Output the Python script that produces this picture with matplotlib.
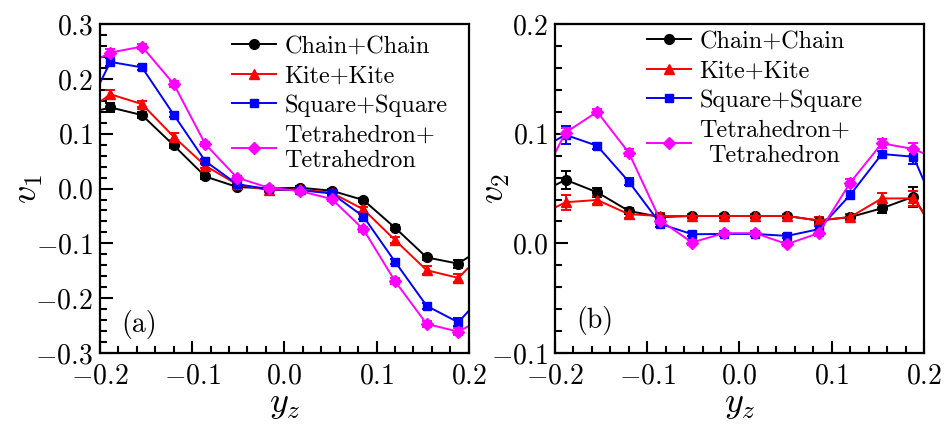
import numpy as np
import matplotlib
matplotlib.use("Agg")
import matplotlib.pyplot as plt
from matplotlib.lines import Line2D

plt.rcParams['font.family'] = 'serif'
plt.rcParams['font.serif'] = ['cmr10']
plt.rcParams['mathtext.fontset'] = 'cm'
plt.rcParams['axes.formatter.use_mathtext'] = True

# y_z positions (the outer points lie just beyond the axis limits)
yz = [-0.2229, -0.1886, -0.1543, -0.1200, -0.0857, -0.0514, -0.0171,
      0.0171, 0.0514, 0.0857, 0.1200, 0.1543, 0.1886, 0.2229]

labels = ["Chain+Chain", "Kite+Kite", "Square+Square", "Tetrahedron+\nTetrahedron"]

# panel (a): v1
v1_chain = [0.133, 0.148, 0.134, 0.079, 0.022, 0.003, 0.000, 0.0015, -0.004, -0.021, -0.0715, -0.1256, -0.137, -0.099]
v1_kite = [0.130, 0.172, 0.154, 0.0945, 0.0416, 0.0077, -0.003, -0.0015, -0.0077, -0.038, -0.094, -0.149, -0.163, -0.105]
v1_square = [0.114, 0.231, 0.221, 0.135, 0.050, 0.008, -0.001, -0.003, -0.009, -0.051, -0.1335, -0.214, -0.244, -0.180]
v1_tetra = [0.218, 0.248, 0.259, 0.191, 0.081, 0.020, 0.0015, -0.0046, -0.019, -0.0745, -0.169, -0.247, -0.261, -0.230]
e1_chain = [0.006, 0.008, 0.005, 0.005, 0.004, 0.003, 0.003, 0.003, 0.003, 0.004, 0.005, 0.005, 0.007, 0.006]
e1_kite = [0.006, 0.008, 0.006, 0.006, 0.004, 0.003, 0.003, 0.003, 0.003, 0.005, 0.006, 0.007, 0.008, 0.006]
e1_square = [0.006, 0.007, 0.005, 0.005, 0.004, 0.003, 0.003, 0.003, 0.003, 0.004, 0.005, 0.005, 0.007, 0.006]
e1_tetra = [0.006, 0.006, 0.005, 0.005, 0.004, 0.003, 0.003, 0.003, 0.003, 0.004, 0.005, 0.005, 0.006, 0.006]

# panel (b): v2
v2_chain = [0.043, 0.058, 0.0466, 0.0296, 0.024, 0.025, 0.025, 0.025, 0.025, 0.0208, 0.024, 0.032, 0.0426, -0.005]
v2_kite = [0.023, 0.0375, 0.0396, 0.0266, 0.025, 0.025, 0.025, 0.025, 0.025, 0.021, 0.024, 0.041, 0.041, 0.000]
v2_square = [0.083, 0.099, 0.089, 0.0563, 0.0178, 0.0083, 0.0086, 0.0086, 0.0068, 0.0129, 0.0442, 0.0815, 0.079, 0.012]
v2_tetra = [0.045, 0.101, 0.120, 0.0827, 0.0208, 0.0008, 0.0093, 0.0093, -0.0007, 0.0093, 0.0554, 0.0913, 0.086, 0.074]
e2_chain = [0.005, 0.008, 0.004, 0.003, 0.003, 0.002, 0.002, 0.002, 0.002, 0.003, 0.003, 0.004, 0.009, 0.005]
e2_kite = [0.005, 0.007, 0.004, 0.003, 0.003, 0.002, 0.002, 0.002, 0.002, 0.003, 0.003, 0.005, 0.007, 0.005]
e2_square = [0.005, 0.008, 0.003, 0.003, 0.003, 0.002, 0.002, 0.002, 0.002, 0.003, 0.004, 0.003, 0.007, 0.005]
e2_tetra = [0.004, 0.004, 0.003, 0.003, 0.003, 0.002, 0.002, 0.002, 0.002, 0.003, 0.003, 0.004, 0.006, 0.004]

colors = ["black", "red", "blue", "#ff00ff"]
markers = ["o", "^", "s", "D"]
msizes = [7, 7, 6, 6]


def draw(ax, ys, es, ylab, ylim, ticks, tag, tagy, leg_x, leg_y, lab_x, center_last):
    handles = []
    for y, e, c, m, ms in zip(ys, es, colors, markers, msizes):
        ax.errorbar(yz, y, yerr=e, color=c, marker=m, ms=ms, lw=1.4,
                    elinewidth=1.4, capsize=3.5, capthick=1.4)
        handles.append(Line2D([], [], color=c, marker=m, ms=ms, lw=1.4))
    ax.set_xlim(-0.2, 0.2)
    ax.set_ylim(*ylim)
    ax.set_xticks([-0.2, -0.1, 0.0, 0.1, 0.2])
    ax.set_yticks(ticks)
    ax.xaxis.set_minor_locator(plt.MultipleLocator(0.02))
    ax.yaxis.set_minor_locator(plt.MultipleLocator(0.02))
    ax.tick_params(which='both', direction='in', width=1.5, labelsize=20, pad=5)
    ax.tick_params(axis='x', which='both', pad=7)
    ax.tick_params(which='major', length=9)
    ax.tick_params(which='minor', length=5)
    for s in ax.spines.values():
        s.set_linewidth(1.6)
    ax.set_xlabel(r'$y_z$', fontsize=26, labelpad=0)
    ax.set_ylabel(ylab, fontsize=26)
    ax.yaxis.set_label_coords(lab_x, 0.5)
    ax.text(0.058, tagy, tag, transform=ax.transAxes, fontsize=20, va='center')
    leg = ax.legend(handles, labels, loc='upper left', bbox_to_anchor=(leg_x, leg_y),
                    frameon=False, fontsize=17.5, handlelength=1.8, handletextpad=0.35,
                    labelspacing=0.3, borderpad=0, borderaxespad=0)
    if center_last:
        leg.get_texts()[3].set_multialignment('center')


fig = plt.figure(figsize=(9.51, 4.3), dpi=100)
ax1 = fig.add_axes([0.105, 0.179, 0.388, 0.765])
ax2 = fig.add_axes([0.5836, 0.179, 0.388, 0.765])

draw(ax1, [v1_chain, v1_kite, v1_square, v1_tetra], [e1_chain, e1_kite, e1_square, e1_tetra],
     r'$v_1$', (-0.3, 0.3), [-0.3, -0.2, -0.1, 0.0, 0.1, 0.2, 0.3], '(a)', 0.088,
     0.358, 0.965, -0.15, False)
draw(ax2, [v2_chain, v2_kite, v2_square, v2_tetra], [e2_chain, e2_kite, e2_square, e2_tetra],
     r'$v_2$', (-0.1, 0.2), [-0.1, 0.0, 0.1, 0.2], '(b)', 0.10,
     0.249, 0.98, -0.117, True)

fig.savefig("out.png", dpi=100)
